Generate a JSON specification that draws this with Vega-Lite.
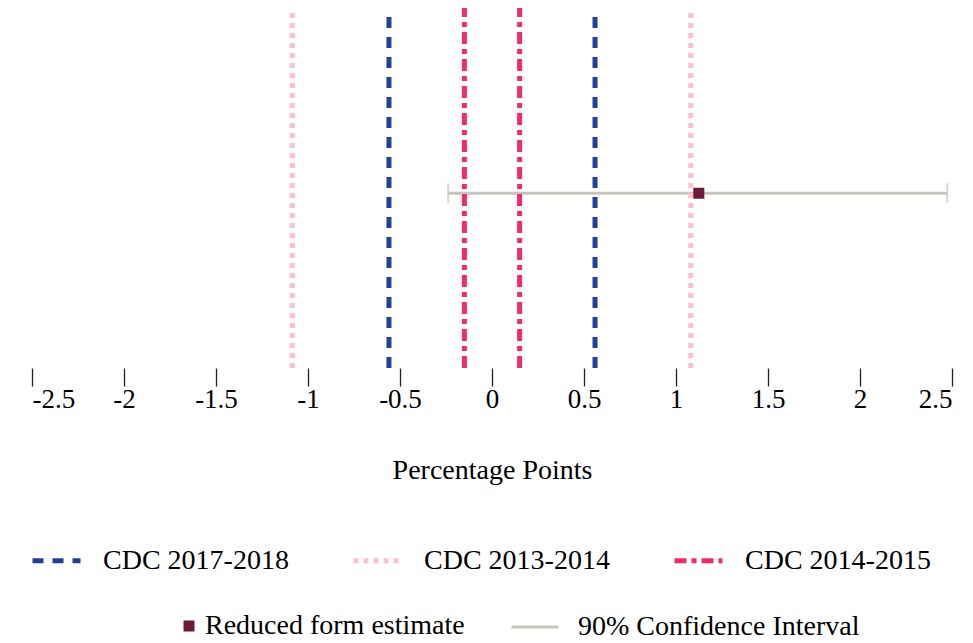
{
  "$schema": "https://vega.github.io/schema/vega-lite/v6.json",
  "width": 920,
  "height": 360,
  "autosize": {"type": "none"},
  "padding": {"left": 32, "top": 8, "right": 21, "bottom": 275},
  "background": "white",
  "datasets": {
    "lines": [
      {"series": "CDC 2017-2018", "x": -0.56},
      {"series": "CDC 2017-2018", "x": 0.56},
      {"series": "CDC 2013-2014", "x": -1.085},
      {"series": "CDC 2013-2014", "x": 1.08},
      {"series": "CDC 2014-2015", "x": -0.15},
      {"series": "CDC 2014-2015", "x": 0.15}
    ],
    "est": [
      {"label": "Reduced form estimate", "ci": "90% Confidence Interval", "estimate": 1.124, "lo": -0.238, "hi": 2.474, "row": 1}
    ]
  },
  "layer": [
    {
      "data": {"name": "est"},
      "mark": {"type": "rule", "strokeWidth": 3},
      "encoding": {
        "x": {"field": "lo", "type": "quantitative", "scale": {"domain": [-2.5, 2.5], "nice": false, "zero": false},
          "axis": {
            "title": "Percentage Points",
            "values": [-2.5, -2, -1.5, -1, -0.5, 0, 0.5, 1, 1.5, 2, 2.5],
            "format": "~g",
            "labelExpr": "replace(datum.label, '\u2212', '-')",
            "domain": false, "grid": false,
            "tickSize": 18, "tickWidth": 1.3, "tickColor": "#222222",
            "labelFont": "Liberation Serif", "labelFontSize": 27, "labelColor": "#000000", "labelPadding": 0,
            "titleFont": "Liberation Serif", "titleFontSize": 28, "titleFontWeight": "normal", "titleColor": "#000000", "titlePadding": 44
          }},
        "x2": {"field": "hi"},
        "y": {"field": "row", "type": "quantitative", "scale": {"domain": [0, 2.06], "nice": false, "zero": false}, "axis": null},
        "stroke": {"field": "ci", "type": "nominal", "scale": {"domain": ["90% Confidence Interval"], "range": ["#c9c5bd"]},
          "legend": {"orient": "none", "legendX": 478, "legendY": 594, "title": null, "symbolType": "stroke", "symbolSize": 2209, "symbolStrokeWidth": 3,
            "labelFont": "Liberation Serif", "labelFontSize": 28, "labelColor": "#000000", "labelOffset": 18, "labelLimit": 0, "padding": 0}}
      }
    },
    {
      "data": {"name": "est"},
      "mark": {"type": "tick", "orient": "vertical", "size": 20, "thickness": 2, "color": "#c9c5bd"},
      "encoding": {
        "x": {"field": "lo", "type": "quantitative"},
        "y": {"field": "row", "type": "quantitative"}
      }
    },
    {
      "data": {"name": "est"},
      "mark": {"type": "tick", "orient": "vertical", "size": 20, "thickness": 2, "color": "#c9c5bd"},
      "encoding": {
        "x": {"field": "hi", "type": "quantitative"},
        "y": {"field": "row", "type": "quantitative"}
      }
    },
    {
      "data": {"name": "lines"},
      "mark": {"type": "rule", "strokeWidth": 5},
      "encoding": {
        "x": {"field": "x", "type": "quantitative"},
        "y": {"datum": 0, "type": "quantitative"},
        "y2": {"datum": 2.06},
        "color": {"field": "series", "type": "nominal",
          "scale": {"domain": ["CDC 2017-2018", "CDC 2013-2014", "CDC 2014-2015"], "range": ["#22409a", "#ffc0cb", "#f52a6b"]},
          "legend": {"orient": "none", "legendX": -2, "legendY": 526, "direction": "horizontal", "title": null, "symbolType": "stroke", "symbolSize": 2304, "symbolStrokeWidth": 5,
            "labelFont": "Liberation Serif", "labelFontSize": 28, "labelColor": "#000000", "labelOffset": 20, "labelLimit": 0, "columnPadding": 54, "padding": 0}},
        "strokeDash": {"field": "series", "type": "nominal",
          "scale": {"domain": ["CDC 2017-2018", "CDC 2013-2014", "CDC 2014-2015"], "range": [[11, 9], [5, 5], [12, 5, 5, 5]]}}
      }
    },
    {
      "data": {"name": "est"},
      "mark": {"type": "point", "filled": true, "size": 121, "opacity": 1, "color": "#6b1a3a"},
      "encoding": {
        "x": {"field": "estimate", "type": "quantitative"},
        "y": {"field": "row", "type": "quantitative"},
        "shape": {"field": "label", "type": "nominal", "scale": {"domain": ["Reduced form estimate"], "range": ["square"]},
          "legend": {"orient": "none", "legendX": 143, "legendY": 604, "title": null, "symbolSize": 121, "symbolFillColor": "#6b1a3a", "symbolStrokeWidth": 0, "symbolOpacity": 1,
            "labelFont": "Liberation Serif", "labelFontSize": 28, "labelColor": "#000000", "labelOffset": 2, "labelLimit": 0, "padding": 0}}
      }
    }
  ],
  "config": {"view": {"stroke": null}}
}
